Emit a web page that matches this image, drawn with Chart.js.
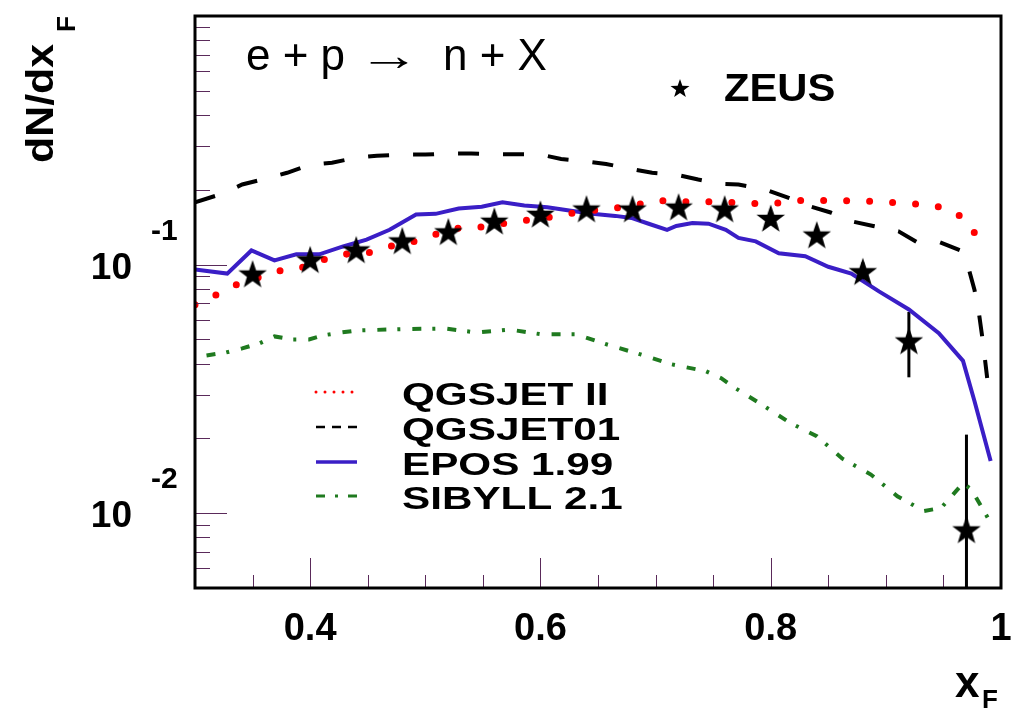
<!DOCTYPE html>
<html>
<head>
<meta charset="utf-8">
<title>dN/dxF e+p to n+X</title>
<script src="https://cdn.jsdelivr.net/npm/chart.js@4.4.1/dist/chart.umd.min.js"></script>
<style>
body { margin: 0; background: #fff; }
canvas { display: block; }
</style>
</head>
<body>
<canvas id="myChart" width="1018" height="710"></canvas>
<script>
'use strict'
// ZEUS leading neutron data
let zeusX = [0.35, 0.40, 0.44, 0.48, 0.52, 0.56, 0.60, 0.64, 0.68, 0.72, 0.76, 0.80, 0.84, 0.88, 0.92, 0.97];
let zeusY = [0.092, 0.105, 0.115, 0.125, 0.136, 0.150, 0.160, 0.168, 0.168, 0.171, 0.168, 0.154, 0.132, 0.094, 0.0495, 0.0086];
let zeusYHigh = [0.097, 0.110, 0.120, 0.131, 0.142, 0.157, 0.167, 0.175, 0.175, 0.179, 0.176, 0.162, 0.140, 0.102, 0.0645, 0.0207];
let zeusYLow = [0.087, 0.100, 0.110, 0.119, 0.130, 0.143, 0.153, 0.161, 0.161, 0.163, 0.160, 0.146, 0.124, 0.086, 0.0352, 0.003];

// model curves
let qgsjet2X = [0.30, 0.315, 0.332, 0.35, 0.37, 0.389, 0.41, 0.428, 0.449, 0.467, 0.488, 0.506, 0.527, 0.545, 0.566, 0.584, 0.604, 0.624, 0.644, 0.663, 0.683, 0.702, 0.723, 0.743, 0.763, 0.783, 0.803, 0.823, 0.843, 0.862, 0.882, 0.902, 0.922, 0.942, 0.961, 0.974, 0.984];
let qgsjet2Y = [0.069, 0.074, 0.082, 0.087, 0.094, 0.096, 0.104, 0.110, 0.111, 0.118, 0.123, 0.131, 0.140, 0.141, 0.146, 0.150, 0.154, 0.160, 0.165, 0.168, 0.174, 0.181, 0.179, 0.179, 0.178, 0.176, 0.176, 0.181, 0.181, 0.181, 0.180, 0.178, 0.176, 0.173, 0.162, 0.142, 0.117];

let qgsjet01X = [0.30, 0.324, 0.341, 0.362, 0.38, 0.40, 0.419, 0.44, 0.458, 0.48, 0.50, 0.52, 0.54, 0.56, 0.578, 0.60, 0.618, 0.64, 0.657, 0.678, 0.697, 0.718, 0.737, 0.757, 0.772, 0.796, 0.815, 0.835, 0.852, 0.871, 0.889, 0.911, 0.927, 0.947, 0.965, 0.972, 0.977, 0.981, 0.984, 0.988];
let qgsjet01Y = [0.178, 0.193, 0.210, 0.222, 0.234, 0.252, 0.257, 0.269, 0.274, 0.277, 0.277, 0.280, 0.280, 0.278, 0.278, 0.277, 0.266, 0.260, 0.254, 0.243, 0.234, 0.230, 0.220, 0.211, 0.210, 0.200, 0.186, 0.171, 0.162, 0.149, 0.143, 0.136, 0.123, 0.123, 0.114, 0.096, 0.079, 0.063, 0.050, 0.035];

let eposX = [0.30, 0.328, 0.349, 0.369, 0.388, 0.408, 0.428, 0.449, 0.469, 0.492, 0.509, 0.529, 0.549, 0.567, 0.586, 0.606, 0.625, 0.645, 0.665, 0.679, 0.694, 0.71, 0.718, 0.732, 0.746, 0.761, 0.772, 0.787, 0.807, 0.83, 0.85, 0.87, 0.894, 0.92, 0.946, 0.967, 0.977, 0.991];
let eposY = [0.0955, 0.092, 0.114, 0.104, 0.110, 0.110, 0.118, 0.126, 0.138, 0.159, 0.160, 0.168, 0.171, 0.178, 0.173, 0.170, 0.165, 0.160, 0.157, 0.154, 0.146, 0.138, 0.143, 0.147, 0.146, 0.138, 0.128, 0.124, 0.111, 0.108, 0.098, 0.092, 0.078, 0.066, 0.053, 0.041, 0.0282, 0.0162];

let sibyllX = [0.31, 0.327, 0.341, 0.356, 0.369, 0.384, 0.399, 0.412, 0.427, 0.44, 0.48, 0.518, 0.544, 0.573, 0.601, 0.631, 0.658, 0.687, 0.714, 0.744, 0.757, 0.768, 0.792, 0.816, 0.84, 0.862, 0.887, 0.91, 0.933, 0.948, 0.957, 0.967, 0.974, 0.982, 0.989];
let sibyllY = [0.0431, 0.0443, 0.046, 0.0482, 0.0514, 0.050, 0.050, 0.052, 0.0533, 0.0543, 0.055, 0.0553, 0.0533, 0.0548, 0.0524, 0.0524, 0.0477, 0.0435, 0.0397, 0.0372, 0.0349, 0.0321, 0.0274, 0.0232, 0.0204, 0.0166, 0.0143, 0.0117, 0.0102, 0.0105, 0.0117, 0.0132, 0.0125, 0.0108, 0.0095];

// axis labels
let xTickValues = [0.4, 0.6, 0.8, 1.0];
let xTickLabels = ['0.4', '0.6', '0.8', '1'];
let yTickValues = [0.01, 0.1];
let yTickExponents = ['-2', '-1'];

let FONT = "'Liberation Sans', Arial, Helvetica, sans-serif";

function pts(xs, ys) {
    let out = [];
    for (let i = 0; i < xs.length; i++) {
        out.push({ x: xs[i], y: ys[i] });
    }
    return out;
}

function starPath(ctx, cx, cy, r) {
    let inner = r * 0.4;
    ctx.beginPath();
    for (let i = 0; i < 10; i++) {
        let rad = i % 2 === 0 ? r : inner;
        let ang = -Math.PI / 2 + i * Math.PI / 5;
        let px = cx + rad * Math.cos(ang);
        let py = cy + rad * Math.sin(ang);
        if (i === 0) ctx.moveTo(px, py); else ctx.lineTo(px, py);
    }
    ctx.closePath();
}

function makeStar(r) {
    let c = document.createElement('canvas');
    let size = Math.ceil(r * 2 + 2);
    c.width = size;
    c.height = size;
    let sctx = c.getContext('2d');
    sctx.fillStyle = '#000';
    starPath(sctx, size / 2, size / 2 + r * 0.1, r);
    sctx.fill();
    return c;
}

function drawText(ctx, str, x, y, font, stretch, align) {
    ctx.save();
    ctx.font = font;
    ctx.textAlign = align || 'left';
    ctx.textBaseline = 'alphabetic';
    ctx.translate(x, y);
    ctx.scale(stretch, 1);
    ctx.fillStyle = '#000';
    ctx.fillText(str, 0, 0);
    ctx.restore();
}

// text squeezed or widened to fill a given width
function drawTextWidth(ctx, str, x, y, font, width) {
    ctx.save();
    ctx.font = font;
    let w = ctx.measureText(str).width;
    ctx.restore();
    drawText(ctx, str, x, y, font, width / w, 'left');
}

// frame, inward ticks, labels and legend in the ROOT look
let rootFrame = {
    id: 'rootFrame',
    beforeDatasetsDraw(chart) {
        let ctx = chart.ctx;
        let a = chart.chartArea;
        let xs = chart.scales.x, ys = chart.scales.y;
        ctx.save();
        ctx.beginPath();
        ctx.rect(a.left, a.top, a.right - a.left, a.bottom - a.top);
        ctx.clip();
        ctx.strokeStyle = '#000';
        ctx.lineWidth = 3;
        for (let i = 0; i < zeusX.length; i++) {
            let px = xs.getPixelForValue(zeusX[i]);
            ctx.beginPath();
            ctx.moveTo(px, ys.getPixelForValue(zeusYLow[i]));
            ctx.lineTo(px, ys.getPixelForValue(zeusYHigh[i]));
            ctx.stroke();
        }
        ctx.restore();
    },
    afterDraw(chart) {
        let ctx = chart.ctx;
        let a = chart.chartArea;
        let xs = chart.scales.x, ys = chart.scales.y;
        ctx.save();

        // ticks
        ctx.strokeStyle = '#5a2a5a';
        ctx.lineWidth = 1;
        for (let k = 7; k <= 19; k++) {
            let px = Math.round(xs.getPixelForValue(k / 20)) + 0.5;
            let len = k % 4 === 0 ? 30 : 13;
            ctx.beginPath();
            ctx.moveTo(px, a.bottom);
            ctx.lineTo(px, a.bottom - len);
            ctx.stroke();
        }
        for (let d = -3; d <= -1; d++) {
            for (let m = 1; m <= 9; m++) {
                let v = m * Math.pow(10, d);
                if (v <= ys.min || v >= ys.max) continue;
                let py = Math.round(ys.getPixelForValue(v)) + 0.5;
                let len = m === 1 ? 32 : 15;
                ctx.beginPath();
                ctx.moveTo(a.left, py);
                ctx.lineTo(a.left + len, py);
                ctx.stroke();
            }
        }

        // frame
        ctx.strokeStyle = '#000';
        ctx.lineWidth = 3;
        ctx.strokeRect(a.left, a.top, a.right - a.left, a.bottom - a.top);

        // tick labels
        for (let i = 0; i < xTickValues.length; i++) {
            drawText(ctx, xTickLabels[i], xs.getPixelForValue(xTickValues[i]), a.bottom + 52, 'bold 38px ' + FONT, 1, 'center');
        }
        for (let i = 0; i < yTickValues.length; i++) {
            let py = ys.getPixelForValue(yTickValues[i]);
            drawText(ctx, '10', 132, py + 14, 'bold 37px ' + FONT, 1, 'right');
            drawText(ctx, yTickExponents[i], 151, py - 25, 'bold 30px ' + FONT, 1, 'left');
        }

        // axis titles
        ctx.save();
        ctx.translate(53, 163);
        ctx.rotate(-Math.PI / 2);
        drawText(ctx, 'dN/dx', 0, 0, 'bold 39px ' + FONT, 1.1, 'left');
        drawText(ctx, 'F', 131, 22, 'bold 26px ' + FONT, 1, 'left');
        ctx.restore();
        drawText(ctx, 'x', 955, 697, 'bold 44px ' + FONT, 1, 'left');
        drawText(ctx, 'F', 982, 708, 'bold 26px ' + FONT, 1, 'left');

        // reaction and data label
        drawText(ctx, 'e + p', 246, 70, '44px ' + FONT, 1, 'left');
        drawTextWidth(ctx, '\u2192', 358, 70, '44px ' + FONT, 62);
        drawText(ctx, 'n + X', 443, 70, '44px ' + FONT, 1, 'left');
        ctx.fillStyle = '#000';
        starPath(ctx, 680, 89, 10);
        ctx.fill();
        drawText(ctx, 'ZEUS', 724, 101, 'bold 39px ' + FONT, 1.07, 'left');

        // legend
        let rows = [392, 427, 462, 496];
        let sample = [
            { color: '#ff0000', width: 3, dash: [0, 9], cap: 'round' },
            { color: '#000', width: 2.5, dash: [9, 7], cap: 'butt' },
            { color: '#3a1ec6', width: 3.5, dash: [], cap: 'butt' },
            { color: '#1f7a1f', width: 3, dash: [9, 10, 3, 10], cap: 'butt' }
        ];
        for (let i = 0; i < rows.length; i++) {
            let ds = chart.data.datasets[i + 1];
            let s = sample[i];
            ctx.strokeStyle = s.color;
            ctx.lineWidth = s.width;
            ctx.lineCap = s.cap;
            ctx.setLineDash(s.dash);
            ctx.beginPath();
            ctx.moveTo(316, rows[i]);
            ctx.lineTo(357, rows[i]);
            ctx.stroke();
            ctx.setLineDash([]);
            drawText(ctx, ds.label, 402, rows[i] + 13, 'bold 32px ' + FONT, 1.32, 'left');
        }
        ctx.restore();
    }
};

let starImg = makeStar(15);
let ctx = document.getElementById('myChart').getContext('2d');
let myChart = new Chart(ctx, {
    type: 'scatter',
    data: {
        datasets: [{
            label: 'ZEUS',
            data: pts(zeusX, zeusY),
            showLine: false,
            pointStyle: starImg,
            pointRadius: 15,
            order: 0
        }, {
            label: 'QGSJET II',
            data: pts(qgsjet2X, qgsjet2Y),
            showLine: true,
            borderColor: '#ff0000',
            borderWidth: 7,
            borderDash: [0, 23],
            borderCapStyle: 'round',
            pointRadius: 0,
            tension: 0,
            order: 1
        }, {
            label: 'QGSJET01',
            data: pts(qgsjet01X, qgsjet01Y),
            showLine: true,
            borderColor: '#000000',
            borderWidth: 4,
            borderDash: [21, 24],
            pointRadius: 0,
            tension: 0,
            order: 2
        }, {
            label: 'EPOS 1.99',
            data: pts(eposX, eposY),
            showLine: true,
            borderColor: '#3a1ec6',
            borderWidth: 4,
            pointRadius: 0,
            tension: 0,
            order: 3
        }, {
            label: 'SIBYLL 2.1',
            data: pts(sibyllX, sibyllY),
            showLine: true,
            borderColor: '#1f7a1f',
            borderWidth: 4,
            borderDash: [9, 11, 3, 12],
            pointRadius: 0,
            tension: 0,
            order: 4
        }]
    },
    options: {
        responsive: false,
        animation: false,
        events: [],
        layout: { padding: { left: 195, top: 12, right: 17, bottom: 122 } },
        plugins: {
            legend: { display: false },
            tooltip: { enabled: false }
        },
        scales: {
            x: { type: 'linear', min: 0.3, max: 1.0, display: false },
            y: { type: 'logarithmic', min: 0.005, max: 1, display: false }
        }
    },
    plugins: [rootFrame]
});
</script>
</body>
</html>
